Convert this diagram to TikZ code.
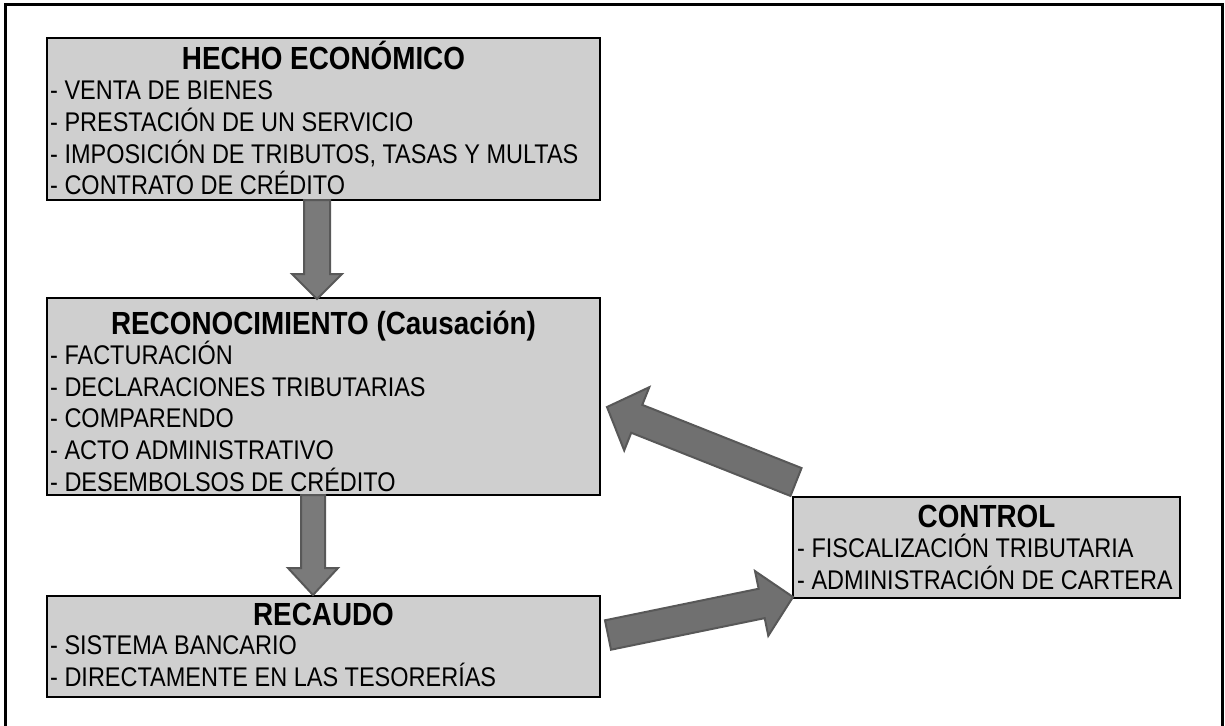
\documentclass[tikz,border=0pt]{standalone}
\usepackage{fontspec}
\setmainfont{Liberation Sans}
\newfontfamily\narrowfont[FakeStretch=0.87]{Liberation Sans}
\usetikzlibrary{calc}
\definecolor{boxgray}{RGB}{207,207,207}
\definecolor{arrfill}{RGB}{112,112,112}
\definecolor{arrline}{RGB}{88,88,88}
\definecolor{varrfill}{RGB}{122,122,122}
\newcommand{\blockarrow}[6][barrow]{%
  \coordinate (hb) at ($(#3)!#6!(#2)$);
  \filldraw[#1]
    ($(#2)!#4!90:(#3)$) -- ($(hb)!#4!90:(#3)$) -- ($(hb)!#5!90:(#3)$) -- (#3)
    -- ($(hb)!#5!-90:(#3)$) -- ($(hb)!#4!-90:(#3)$) -- ($(#2)!#4!-90:(#3)$) -- cycle;}
\tikzset{
  box/.style={draw=black, line width=2.5pt, fill=boxgray},
  ttl/.style={font=\narrowfont\fontsize{32pt}{36pt}\selectfont\bfseries, inner sep=0pt, anchor=base},
  item/.style={font=\narrowfont\fontsize{27pt}{30pt}\selectfont, inner sep=0pt, anchor=base west},
  barrow/.style={fill=arrfill, draw=arrline, line width=2pt, line join=miter},
  vbarrow/.style={fill=varrfill, draw=arrline, line width=2pt, line join=miter},
  frame/.style={draw=black, line width=3pt}
}
\begin{document}
\begin{tikzpicture}[x=1pt, y=-1pt]
\useasboundingbox (0,0) rectangle (1225,725);
\draw[frame] (5,726) -- (5,5) -- (1222,5) -- (1222,726);

% boxes
\draw[box] (47,38) rectangle (600,200);
\draw[box] (47,298) rectangle (600,495);
\draw[box] (47,596) rectangle (600,697);
\draw[box] (793,497) rectangle (1180,598);
\coordinate (b1s) at (317,200);
\coordinate (b2n) at (317,299);
\coordinate (b2s) at (313,495);
\coordinate (b3n) at (313,595);
\coordinate (b4w) at (796,482);
\coordinate (b2e) at (607,407);
\coordinate (b3e) at (608,635);
\coordinate (b4sw) at (793,597);

% titles
\node[ttl] (t1) at (323.5,69.5) {HECHO ECONÓMICO};
\node[ttl] (t2) at (323.5,334.5) {RECONOCIMIENTO (Causación)};
\node[ttl] (t3) at (323.5,625.5) {RECAUDO};
\node[ttl] (t4) at (986.5,527.5) {CONTROL};

% items
\foreach \t [count=\i] in {- VENTA DE BIENES, - PRESTACIÓN DE UN SERVICIO, {- IMPOSICIÓN DE TRIBUTOS, TASAS Y MULTAS}, - CONTRATO DE CRÉDITO}
  \node[item] (a\i) at (50,{99.7+31.7*(\i-1)}) {\t};
\foreach \t [count=\i] in {- FACTURACIÓN, - DECLARACIONES TRIBUTARIAS, - COMPARENDO, - ACTO ADMINISTRATIVO, - DESEMBOLSOS DE CRÉDITO}
  \node[item] (r\i) at (50,{364.7+31.6*(\i-1)}) {\t};
\foreach \t [count=\i] in {- SISTEMA BANCARIO, - DIRECTAMENTE EN LAS TESORERÍAS}
  \node[item] (c\i) at (50,{654.7+32*(\i-1)}) {\t};
\foreach \t [count=\i] in {- FISCALIZACIÓN TRIBUTARIA, - ADMINISTRACIÓN DE CARTERA}
  \node[item] (k\i) at (797,{557.7+32*(\i-1)}) {\t};

% arrows
\blockarrow[vbarrow]{b1s}{b2n}{13pt}{25pt}{25pt}
\blockarrow[vbarrow]{b2s}{b3n}{12pt}{25pt}{27pt}
\blockarrow{b4w}{b2e}{15pt}{34pt}{32pt}
\blockarrow{b3e}{b4sw}{15pt}{33pt}{32pt}
\end{tikzpicture}
\end{document}
